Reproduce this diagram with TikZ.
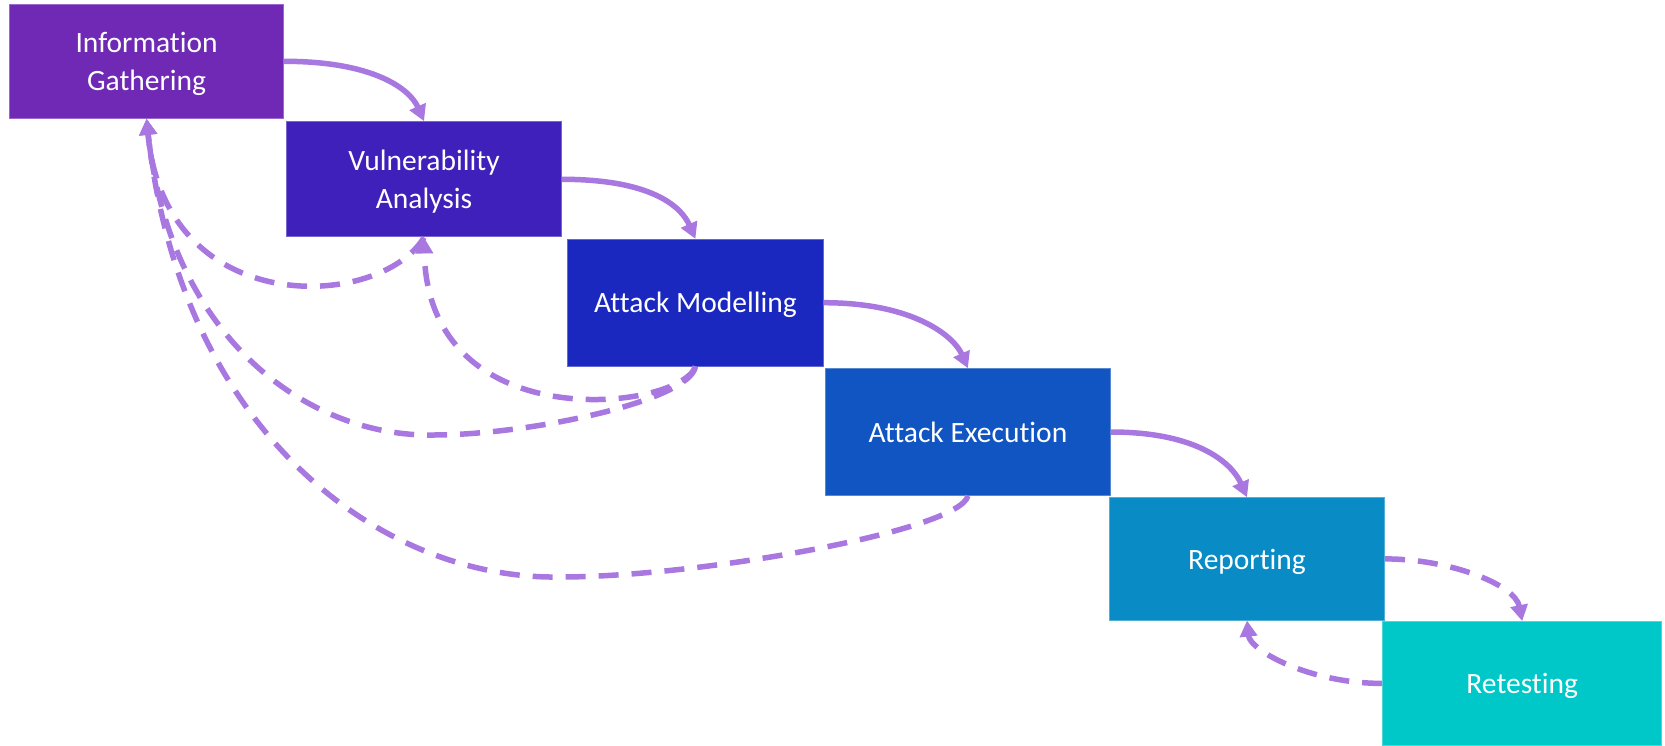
\documentclass[tikz,border=0pt]{standalone}
\usepackage{fontspec}
\setmainfont{Carlito}[Ligatures={NoCommon}]
\usetikzlibrary{arrows.meta}

\definecolor{igc}{HTML}{7029B4}
\definecolor{vac}{HTML}{4020BA}
\definecolor{amc}{HTML}{1A28C0}
\definecolor{aec}{HTML}{1155C2}
\definecolor{repc}{HTML}{098CC5}
\definecolor{retc}{HTML}{00C8C8}
\definecolor{linkc}{HTML}{A878E0}

\tikzset{
  phase/.style={draw=#1!70!white, fill=#1, line width=1pt, inner sep=0pt,
    text=white, align=center, text depth=0pt, font=\fontsize{29.5}{38.5}\selectfont},
  flow/.style={draw=linkc, line width=5.5pt, -{Triangle[length=16pt,width=17pt]}},
  loopback/.style={flow, dash pattern=on 20pt off 13pt}
}

\begin{document}
\begin{tikzpicture}[x=1pt,y=1pt]
  \useasboundingbox (0,0) rectangle (1665,-745);

  % phases of the test, stepping down to the right
  \node[phase=igc, minimum width=274pt, minimum height=114pt] (ig) at (146.6,-61.3) {Information\\Gathering};
  \node[phase=vac, minimum width=275pt, minimum height=115.3pt] (va) at (424,-179.3) {Vulnerability\\Analysis};
  \node[phase=amc, minimum width=255.6pt, minimum height=126.7pt] (am) at (695.4,-302.7) {Attack Modelling};
  \node[phase=aec, minimum width=284.8pt, minimum height=126.6pt] (ae) at (967.9,-432) {Attack Execution};
  \node[phase=repc, minimum width=275pt, minimum height=122.3pt] (rep) at (1247,-558.9) {Reporting};
  \node[phase=retc, minimum width=279.3pt, minimum height=123.7pt] (ret) at (1522.2,-683.4) {Retesting};

  % forward flow
  \draw[flow] (ig.east) .. controls +(90,0) and +(-14,32) .. (va.north);
  \draw[flow] (va.east) .. controls +(90,0) and +(-14,32) .. (am.north);
  \draw[flow] (am.east) .. controls +(90,0) and +(-14,32) .. (ae.north);
  \draw[flow] (ae.east) .. controls +(90,0) and +(-14,32) .. (rep.north);

  % feedback loops
  \draw[loopback] (va.south) .. controls +(-44,-73) and +(18.4,-201.7) .. (ig.south);
  \draw[loopback] (am.south) .. controls +(-15.4,-44) and +(4,-203) .. (va.south);
  \draw[loopback] (am.south) .. controls +(-5.4,-34) and (530,-435) .. (433,-435)
                             .. controls (310,-437) and +(23.4,-221.7) .. (ig.south);
  \draw[loopback] (ae.south) .. controls +(-7.9,-34.7) and (700,-577) .. (560,-577)
                             .. controls (380,-580) and +(33.4,-311.7) .. (ig.south);
  \draw[loopback] (rep.east) .. controls +(65.5,0) and +(-7.2,36.3) .. (ret.north);
  \draw[loopback] (ret.west) .. controls +(-72.5,0) and +(3,-30) .. (rep.south);
\end{tikzpicture}
\end{document}
